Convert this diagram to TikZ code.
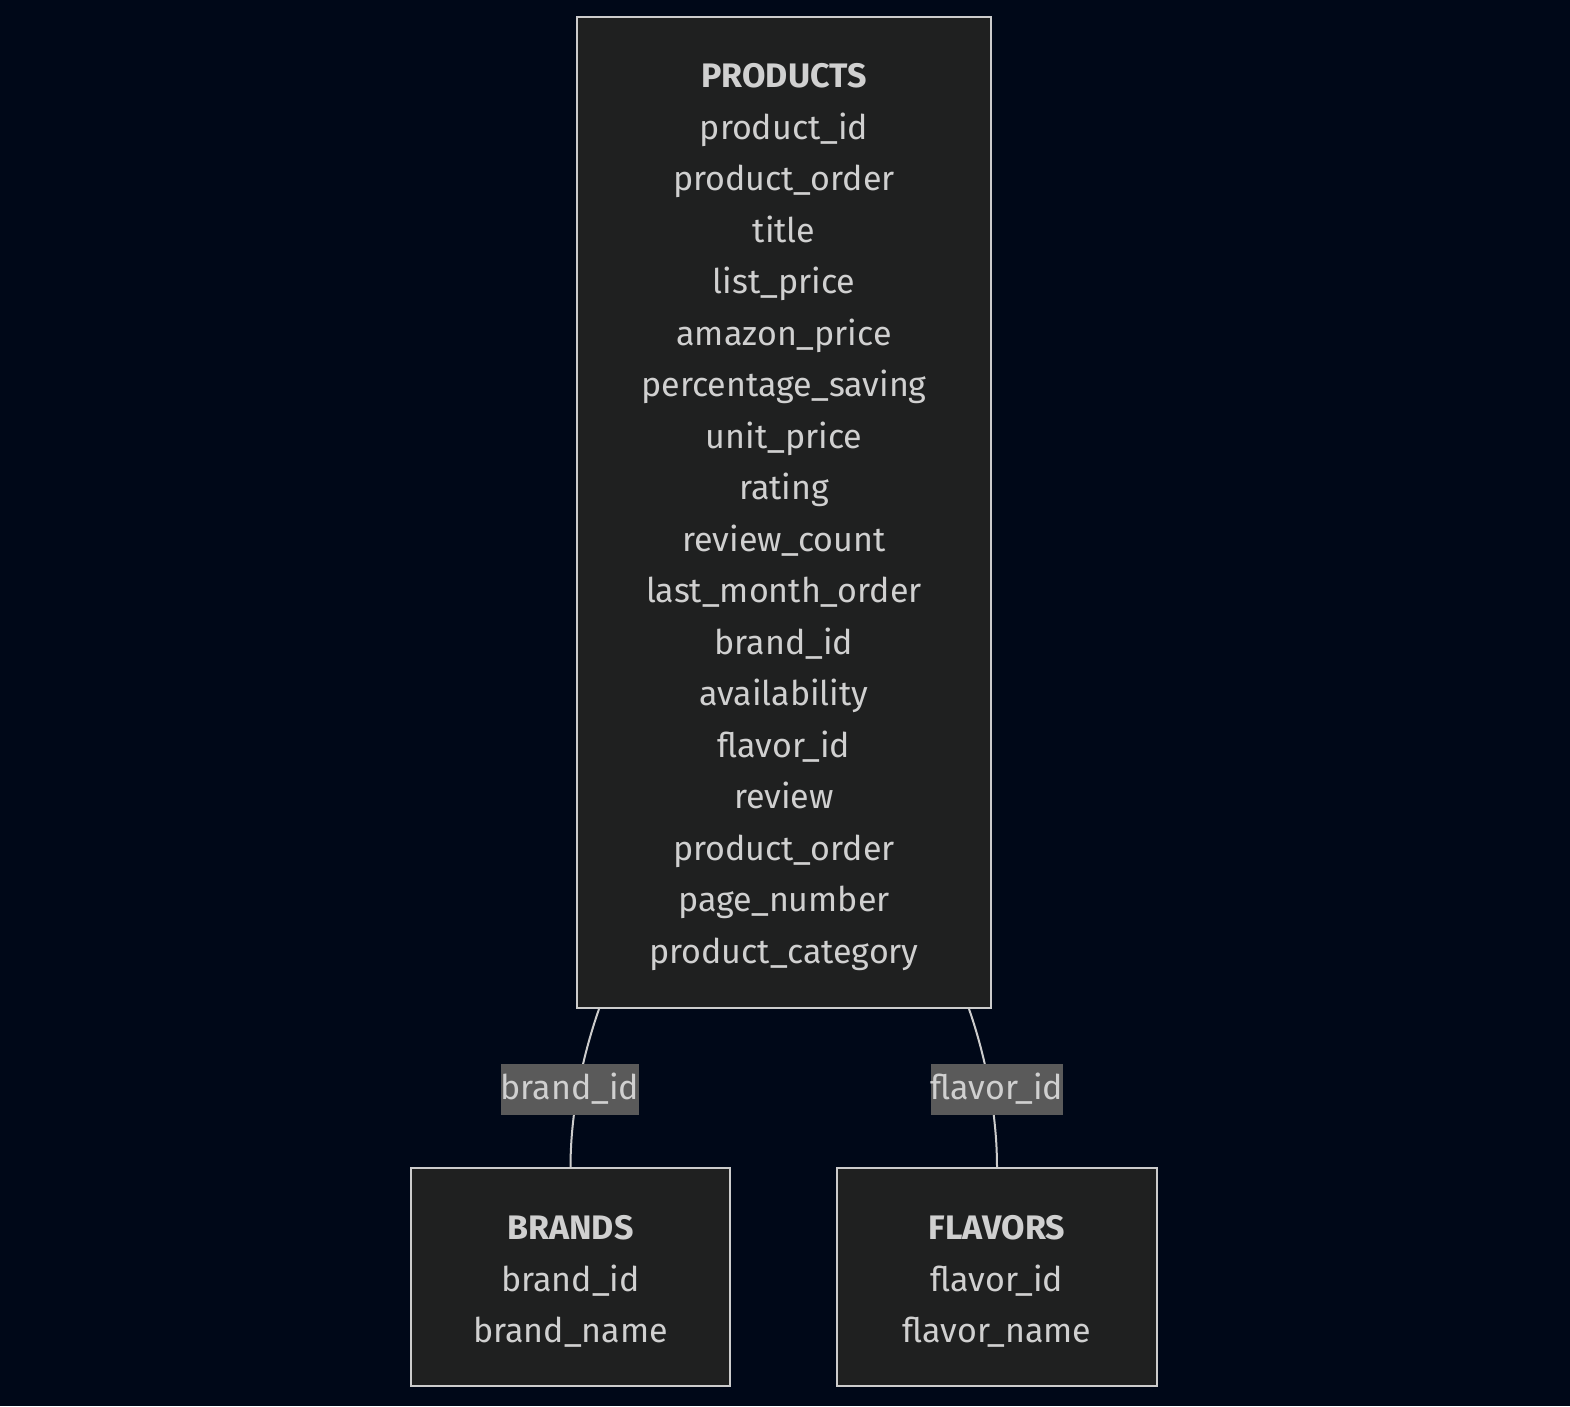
\documentclass[tikz,border=0pt]{standalone}
\usepackage{fontspec}
\setmainfont{Fira Sans}
\usetikzlibrary{calc}
\definecolor{bgcol}{HTML}{000818}
\definecolor{boxfill}{HTML}{1F2020}
\definecolor{boxline}{HTML}{CCCCCC}
\definecolor{labelfill}{HTML}{5A5A5A}
\definecolor{txtcol}{HTML}{D0D0D0}
\tikzset{
  entity/.style={draw=boxline, fill=boxfill, line width=2pt, text=txtcol,
    align=center, inner sep=0pt, font=\fontsize{34}{51.5}\selectfont},
  rel/.style={draw=boxline, line width=2pt},
  rellabel/.style={fill=labelfill, text=txtcol, inner xsep=0pt, inner ysep=0pt,
    minimum height=51pt, font=\fontsize{34}{40}\selectfont}
}
\begin{document}
\begin{tikzpicture}[x=1pt, y=-1pt]
	\fill[bgcol] (0,0) rectangle (1570,1406);
	\useasboundingbox (0,0) rectangle (1570,1406);
	% tables
	\node[entity, minimum width=414pt, minimum height=991pt] (products) at (784,512.5)
		{\\[-18pt]\textbf{PRODUCTS}\\product\_id\\product\_order\\title\\list\_price\\amazon\_price\\percentage\_saving\\unit\_price\\rating\\review\_count\\last\_month\_order\\brand\_id\\availability\\flavor\_id\\review\\product\_order\\page\_number\\product\_category};
	\node[entity, minimum width=319pt, minimum height=218pt] (brands) at (570.5,1277)
		{\\[-18pt]\textbf{BRANDS}\\brand\_id\\brand\_name};
	\node[entity, minimum width=320pt, minimum height=218pt] (flavors) at (997,1277)
		{\\[-18pt]\textbf{FLAVORS}\\flavor\_id\\flavor\_name};
	% relations
	\draw[rel] ($(products.south west)+(23,0)$) .. controls +(-14,40) and +(0,-60) .. (brands.north);
	\draw[rel] ($(products.south east)+(-23,0)$) .. controls +(14,40) and +(0,-60) .. (flavors.north);
	\node[rellabel] (brandlabel) at (570,1089) {brand\_id};
	\node[rellabel] (flavorlabel) at (997,1089) {flavor\_id};
\end{tikzpicture}
\end{document}
